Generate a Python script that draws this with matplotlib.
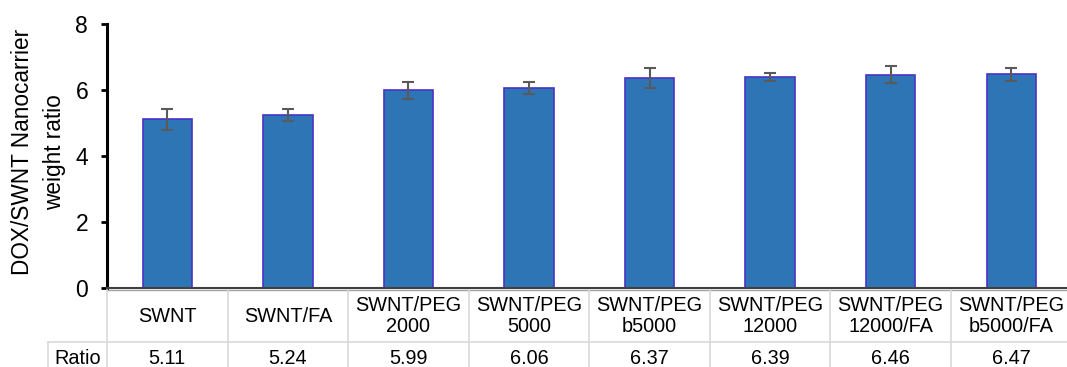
import matplotlib
matplotlib.use("Agg")
import matplotlib.pyplot as plt
from matplotlib.lines import Line2D

plt.rcParams['font.family'] = ['Liberation Sans', 'DejaVu Sans']

categories = ["SWNT", "SWNT/FA", "SWNT/PEG\n2000", "SWNT/PEG\n5000",
              "SWNT/PEG\nb5000", "SWNT/PEG\n12000", "SWNT/PEG\n12000/FA",
              "SWNT/PEG\nb5000/FA"]
ratios = [5.11, 5.24, 5.99, 6.06, 6.37, 6.39, 6.46, 6.47]
errors = [0.31, 0.17, 0.25, 0.18, 0.30, 0.13, 0.26, 0.21]
ratio_labels = ["5.11", "5.24", "5.99", "6.06", "6.37", "6.39", "6.46", "6.47"]
row_label = "Ratio"
y_ticks = [0, 2, 4, 6, 8]
y_label = "DOX/SWNT Nanocarrier\nweight ratio"

W, H = 1067, 367
fig = plt.figure(figsize=(W / 100, H / 100), dpi=100)
ax_left, ax_right = 107, 1071.5
ax_top, ax_bottom = 24, 288
ax = fig.add_axes([ax_left / W, 1 - ax_bottom / H,
                   (ax_right - ax_left) / W, (ax_bottom - ax_top) / H])

n = len(categories)
x = list(range(n))
ax.bar(x, ratios, width=0.41, color="#2E75B6", edgecolor="#4A32C8",
       linewidth=1.2, zorder=2)
ax.errorbar(x, ratios, yerr=errors, fmt="none", ecolor="#5A5A5A",
            elinewidth=1.5, capsize=4.5, capthick=1.5, zorder=3)

ax.set_xlim(-0.5, n - 0.5)
ax.set_ylim(0, 8)
ax.set_yticks(y_ticks)
ax.tick_params(axis="y", labelsize=16.5, length=4.5, width=2, direction="out",
               pad=9, colors="black")
ax.set_xticks([])
for s in ["top", "right"]:
    ax.spines[s].set_visible(False)
ax.spines["left"].set_linewidth(2.2)
ax.spines["left"].set_color("black")
ax.spines["bottom"].set_linewidth(1.5)
ax.spines["bottom"].set_color("#404040")

# y label as figure text
fig.text(38.5 / W, 1 - 152 / H, y_label, rotation=90, ha="center", va="center",
         fontsize=16.3, linespacing=1.45, multialignment="center")

# Data table
def fy(py):
    return 1 - py / H

def fx(px):
    return px / W

tc = "#D9D9D9"
col_w = (ax_right - ax_left) / n
head_top, head_bot, row_bot = 290, 342, 372
lines = []
lines.append(Line2D([fx(ax_left), fx(ax_right)], [fy(head_top), fy(head_top)],
                    color="#A0A0A0", lw=1.0))
lines.append(Line2D([fx(47.5), fx(ax_right)], [fy(head_bot), fy(head_bot)],
                    color=tc, lw=1.2))
lines.append(Line2D([fx(47.5), fx(47.5)], [fy(head_bot), fy(row_bot)],
                    color=tc, lw=1.2))
for i in range(n + 1):
    xx = ax_left + i * col_w
    lines.append(Line2D([fx(xx), fx(xx)], [fy(head_top), fy(row_bot)],
                        color=tc, lw=1.2))
for ln in lines:
    ln.set_transform(fig.transFigure)
    fig.add_artist(ln)

for i in range(n):
    cx = ax_left + (i + 0.5) * col_w
    fig.text(fx(cx), fy(316), categories[i], ha="center", va="center",
             fontsize=14.3, linespacing=1.15, multialignment="center")
    fig.text(fx(cx), fy(358), ratio_labels[i], ha="center", va="center",
             fontsize=14.3)
fig.text(fx(77.5), fy(358), row_label, ha="center", va="center", fontsize=14.3)

fig.savefig("out.png", dpi=100)
